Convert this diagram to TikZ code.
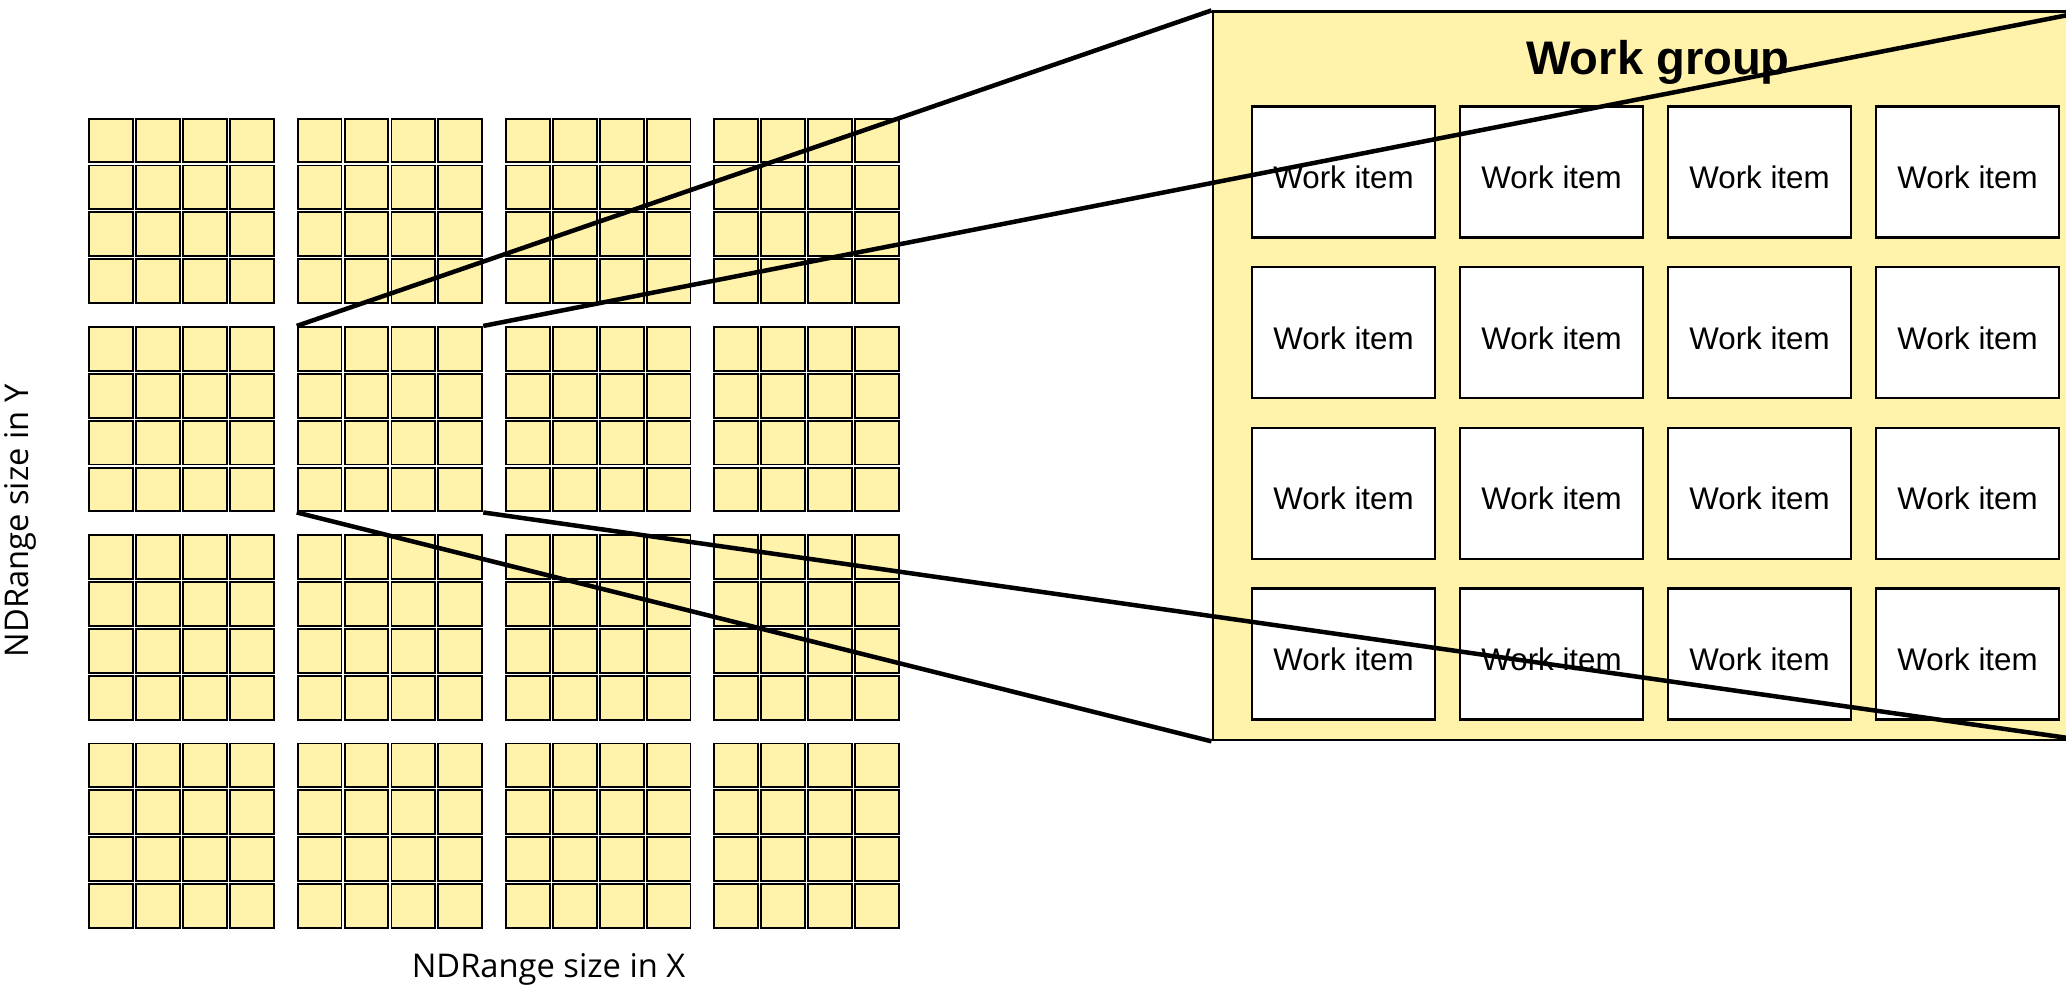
\documentclass[tikz,border=0pt]{standalone}
\usepackage{fontspec}
\setmainfont{Liberation Sans}
\newfontfamily\ndfont{Open Sans}
\definecolor{wgyellow}{RGB}{255,242,170}

\begin{document}
\begin{tikzpicture}[x=0.01cm, y=-0.01cm,
  cell/.style={rectangle, draw, fill=wgyellow, line width=0.019cm, minimum size=0.438cm, inner sep=0pt, outer sep=0pt},
  item/.style={rectangle, draw, fill=white, line width=0.025cm, minimum width=1.83cm, minimum height=1.31cm, inner sep=0pt, font=\fontsize{8.9}{10}\selectfont, text height=0.33cm, text depth=0pt},
  axislabel/.style={font=\ndfont\fontsize{9.3}{11}\selectfont},
  zoomline/.style={line width=0.045cm}]
  \useasboundingbox (0,0) rectangle (2066,989);
  \clip (0,0) rectangle (2066,989);
  \foreach \gc in {0,...,3}
    \foreach \gr in {0,...,3}
      \foreach \i in {0,...,3}
        \foreach \j in {0,...,3}
          \node[cell] (c-\gc-\gr-\i-\j) at ({111.3+208.3*\gc+46.9*\i}, {140.5+208.3*\gr+46.9*\j}) {};
  \node[minimum size=1.864cm, inner sep=0pt, outer sep=0pt] (grp) at (390.0, 419.2) {};
  \node[rectangle, draw, fill=wgyellow, line width=0.025cm, minimum width=8.77cm, minimum height=7.28cm] (wg) at (1651.5, 375.9) {};
  \node[font=\fontsize{13.4}{15}\selectfont\bfseries, anchor=base] (wgtitle) at (1658, 75) {Work group};
  \foreach \k in {0,...,3}
    \foreach \m in {0,...,3}
      \node[item] (wi-\k-\m) at ({1343.5+208*\k}, {171.9+160.7*\m}) {Work item};
  \draw[zoomline] (grp.north west) -- (wg.north west);
  \draw[zoomline] (grp.north east) -- (wg.north east);
  \draw[zoomline] (grp.south west) -- (wg.south west);
  \draw[zoomline] (grp.south east) -- (wg.south east);
  \node[axislabel, anchor=base] (xlabel) at (548.5, 978) {NDRange size in X};
  \node[axislabel, rotate=90, anchor=base] (ylabel) at (28, 521) {NDRange size in Y};
\end{tikzpicture}
\end{document}
